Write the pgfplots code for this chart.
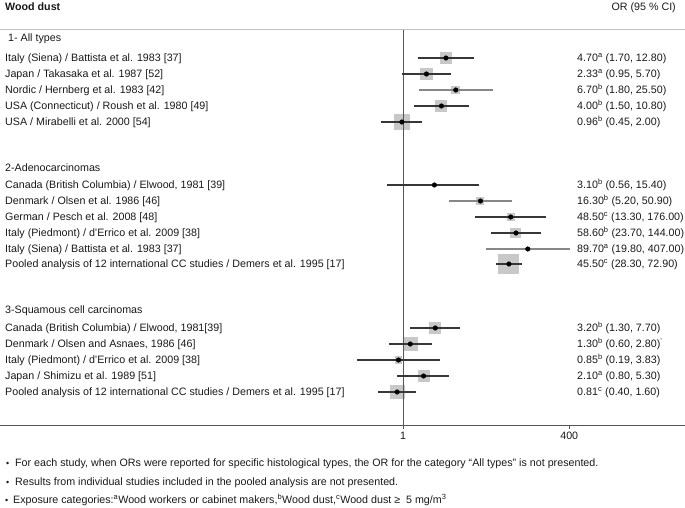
\documentclass[border=0pt]{standalone}
\usepackage{pgfplots}
\usepackage{pgfplotstable}
\usepackage{fontspec}
\setmainfont{Liberation Sans}
\pgfplotsset{compat=1.18}
\definecolor{boxgray}{RGB}{200,200,200}
\definecolor{cidark}{RGB}{55,55,55}
\definecolor{cilight}{RGB}{135,135,135}
\definecolor{rulegray}{RGB}{85,85,85}
\definecolor{txt}{RGB}{25,25,25}

% OR, row position (px from top), half side of the weight square
\pgfplotstableread{
or    y    hs
4.70  58   5.5
2.33  74   6
6.70  90   4
4.00  106  5.5
0.96  122  7.5
3.10  185  1
16.30 201  3.5
48.50 217  3.5
58.60 233  5
89.70 249  1.5
45.50 264  10
3.20  328  5.5
1.30  344  7
0.85  360  3.5
2.10  376  5.5
0.81  392  7
}\studies

% confidence intervals, dark lines
\pgfplotstableread{
x      y
1.70   58
12.80  58
nan    nan
0.95   74
5.70   74
nan    nan
1.50   106
10.80  106
nan    nan
0.45   122
2.00   122
nan    nan
0.56   185
15.40  185
nan    nan
13.30  217
176.00 217
nan    nan
23.70  233
144.00 233
nan    nan
28.30  264
72.90  264
nan    nan
1.30   328
7.70   328
nan    nan
0.60   344
2.80   344
nan    nan
0.19   360
3.83   360
nan    nan
0.80   376
5.30   376
nan    nan
0.40   392
1.60   392
}\cidk

% confidence intervals, light lines
\pgfplotstableread{
x      y
1.80   90
25.50  90
nan    nan
5.20   201
50.90  201
nan    nan
19.80  249
407.00 249
}\cilt

\newcommand{\lab}[3]{\node[anchor=base west,inner sep=0pt,text=txt] at (#1bp,{(504.2-#2)*1bp}) {#3};}

\begin{document}
\fontsize{10.7bp}{13bp}\selectfont
\begin{tikzpicture}
\useasboundingbox (0,0) rectangle (685bp,508bp);
\begin{axis}[at={(0bp,83bp)},anchor=south west,scale only axis,
  width=685bp,height=395bp,
  xmode=log,xmin=4.93e-7,xmax=25900,
  ymin=30,ymax=425,y dir=reverse,
  hide y axis,clip=false,clip mode=individual,
  axis line style={rulegray,line width=1bp},
  xtick={1,400},xticklabels={1,400},minor xtick={},
  xtick pos=bottom,tick align=outside,major tick length=4bp,
  tick style={rulegray,line width=1bp},
  xticklabel style={font=\fontsize{10.7bp}{12bp}\selectfont,text=txt,yshift=1bp},
  /pgf/number format/assume math mode=true]
  \addplot[scatter,only marks,mark=square*,
    scatter/use mapped color={draw=boxgray,fill=boxgray},
    mark options={line width=0pt},
    visualization depends on={\thisrow{hs} \as \hsz},
    scatter/@pre marker code/.append style={/tikz/mark size=\hsz}]
    table[x=or,y=y] {\studies};
  \addplot[rulegray,line width=1bp] coordinates {(1,30) (1,425)};
  \addplot[cidark,line width=1.3bp,unbounded coords=jump] table[x=x,y=y] {\cidk};
  \addplot[cilight,line width=1.3bp,unbounded coords=jump] table[x=x,y=y] {\cilt};
  \addplot[only marks,mark=*,mark size=2.3bp,black] table[x=or,y=y] {\studies};
\end{axis}

\node[anchor=base west,inner sep=0pt,text=txt] at (5bp,{(504.2-7)*1bp}) {\bfseries Wood dust};
\node[anchor=base east,inner sep=0pt,text=txt] at (676bp,{(504.2-7)*1bp}) {OR (95 \% CI)};

\lab{8}{38}{1- All types}
\lab{5}{58}{Italy (Siena) / Battista et al. 1983 [37]}
\lab{5}{74}{Japan / Takasaka et al. 1987 [52]}
\lab{5}{90}{Nordic / Hernberg et al. 1983 [42]}
\lab{5}{106}{USA (Connecticut) / Roush et al. 1980 [49]}
\lab{5}{122}{USA / Mirabelli et al. 2000 [54]}
\lab{5}{168}{2-Adenocarcinomas}
\lab{5}{185}{Canada (British Columbia) / Elwood, 1981 [39]}
\lab{5}{201}{Denmark / Olsen et al. 1986 [46]}
\lab{5}{217}{German / Pesch et al. 2008 [48]}
\lab{5}{233}{Italy (Piedmont) / d'Errico et al. 2009 [38]}
\lab{5}{249}{Italy (Siena) / Battista et al. 1983 [37]}
\lab{5}{264}{Pooled analysis of 12 international CC studies / Demers et al. 1995 [17]}
\lab{5}{310}{3-Squamous cell carcinomas}
\lab{5}{328}{Canada (British Columbia) / Elwood, 1981[39]}
\lab{5}{344}{Denmark / Olsen and Asnaes, 1986 [46]}
\lab{5}{360}{Italy (Piedmont) / d'Errico et al. 2009 [38]}
\lab{5}{376}{Japan / Shimizu et al. 1989 [51]}
\lab{5}{392}{Pooled analysis of 12 international CC studies / Demers et al. 1995 [17]}

\lab{577}{58}{4.70\textsuperscript{a} (1.70, 12.80)}
\lab{577}{74}{2.33\textsuperscript{a} (0.95, 5.70)}
\lab{577}{90}{6.70\textsuperscript{b} (1.80, 25.50)}
\lab{577}{106}{4.00\textsuperscript{b} (1.50, 10.80)}
\lab{577}{122}{0.96\textsuperscript{b} (0.45, 2.00)}
\lab{577}{185}{3.10\textsuperscript{b} (0.56, 15.40)}
\lab{577}{201}{16.30\textsuperscript{b} (5.20, 50.90)}
\lab{577}{217}{48.50\textsuperscript{c} (13.30, 176.00)}
\lab{577}{233}{58.60\textsuperscript{b} (23.70, 144.00)}
\lab{577}{249}{89.70\textsuperscript{a} (19.80, 407.00)}
\lab{577}{264}{45.50\textsuperscript{c} (28.30, 72.90)}
\lab{577}{328}{3.20\textsuperscript{b} (1.30, 7.70)}
\lab{577}{344}{1.30\textsuperscript{b} (0.60, 2.80)\textsuperscript{`}}
\lab{577}{360}{0.85\textsuperscript{b} (0.19, 3.83)}
\lab{577}{376}{2.10\textsuperscript{a} (0.80, 5.30)}
\lab{577}{392}{0.81\textsuperscript{c} (0.40, 1.60)}

\lab{6}{463}{\small •}
\lab{15}{463}{For each study, when ORs were reported for specific histological types, the OR for the category “All types” is not presented.}
\lab{6}{482}{\small •}
\lab{15}{482}{Results from individual studies included in the pooled analysis are not presented.}
\lab{5}{500}{\small •}
\lab{13}{500}{Exposure categories:\textsuperscript{a}Wood workers or cabinet makers,\textsuperscript{b}Wood dust,\textsuperscript{c}Wood dust ≥\ \ 5 mg/m\textsuperscript{3}}
\end{tikzpicture}
\end{document}
